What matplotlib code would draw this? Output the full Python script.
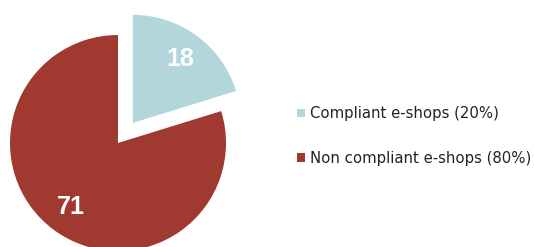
import matplotlib
matplotlib.use("Agg")
import matplotlib.pyplot as plt

categories = ["Compliant e-shops (20%)", "Non compliant e-shops (80%)"]
values = [18, 71]
colors = ["#b2d6dc", "#a03a30"]

radius = 108
explode_px = [25, 0]

fig = plt.figure(figsize=(5.34, 2.47), dpi=100)
ax = fig.add_axes([0, 0, 1, 1])
total = sum(values)
wedges, texts, autotexts = ax.pie(
    values, colors=colors, explode=explode_px, startangle=90, counterclock=False,
    center=(118, 104), radius=radius,
    autopct=lambda p: f"{round(p * total / 100)}", pctdistance=0.74,
    textprops=dict(color="white", fontsize=18, fontweight="bold", family="Liberation Sans"),
)
ax.set_xlim(0, 534)
ax.set_ylim(0, 247)
ax.set_aspect("equal")
ax.axis("off")

leg = fig.legend(wedges, categories, loc="center left", bbox_to_anchor=(0.556, 0.449),
                 frameon=False, fontsize=10.7, handlelength=0.55, handleheight=0.55,
                 handletextpad=0.35, labelspacing=2.0, labelcolor="#222222",
                 borderpad=0, borderaxespad=0)
fig.savefig("out.png", dpi=100)
